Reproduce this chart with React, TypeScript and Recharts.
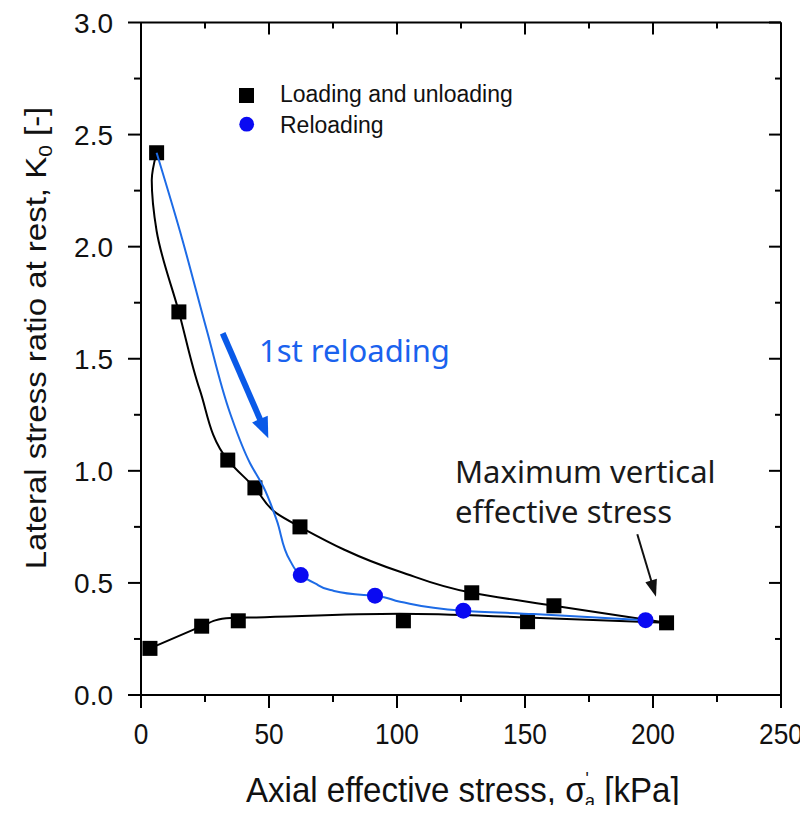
import React from 'react';
import { ScatterChart, Scatter, XAxis, YAxis, Legend } from 'recharts';

// ---- tick values ----
const xTicks = [0, 25, 50, 75, 100, 125, 150, 175, 200, 225, 250];
const yTicks = [0, 0.25, 0.5, 0.75, 1, 1.25, 1.5, 1.75, 2, 2.25, 2.5, 2.75, 3];

// ---- series names ----
const seriesNames = ['Loading and unloading', 'Reloading'];

// ---- measured points (axial effective stress [kPa], K0 [-]) ----
const loadingStress = [3.5, 23.7, 38, 102.5, 151, 205.3];
const loadingK0 = [0.208, 0.307, 0.331, 0.331, 0.327, 0.322];
const unloadingStress = [161.3, 129.2, 62.1, 44.5, 33.9, 14.8, 6.1];
const unloadingK0 = [0.398, 0.456, 0.75, 0.924, 1.048, 1.709, 2.419];
const reloadingStress = [62.4, 91.4, 125.9, 197.1];
const reloadingK0 = [0.535, 0.443, 0.376, 0.334];

// ---- smoothed trend curves ----
const loadingCurveStress = [3.5, 23.7, 29, 35, 45, 101, 150.7, 205.3];
const loadingCurveK0 = [0.208, 0.307, 0.333, 0.343, 0.346, 0.362, 0.346, 0.322];
const unloadingCurveStress = [205.3, 161.3, 129.2, 101.2, 62.1, 53, 44.5, 33.9, 23, 14.8, 6.1, 4.2, 6.1];
const unloadingCurveK0 = [0.322, 0.398, 0.456, 0.55, 0.75, 0.81, 0.924, 1.048, 1.36, 1.709, 2.07, 2.296, 2.419];
const reloadingCurveStress = [6.1, 15.2, 25.7, 34.8, 42.6, 47.8, 53, 58.2, 62.4, 68, 74, 87, 91.4, 101.2, 125.9, 153.3, 197.1];
const reloadingCurveK0 = [2.419, 2.07, 1.627, 1.257, 1.034, 0.929, 0.78, 0.6, 0.535, 0.498, 0.468, 0.446, 0.443, 0.416, 0.376, 0.361, 0.334];

const toPts = (xs: number[], ks: number[]) => xs.map((x, i) => ({ x, k: ks[i] }));

const squares = [...toPts(loadingStress, loadingK0), ...toPts(unloadingStress, unloadingK0)];
const circles = toPts(reloadingStress, reloadingK0);
const loadingCurve = toPts(loadingCurveStress, loadingCurveK0);
const unloadingCurve = toPts(unloadingCurveStress, unloadingCurveK0);
const reloadingCurve = toPts(reloadingCurveStress, reloadingCurveK0);

const ARIAL = '"Liberation Sans", Arial, sans-serif';
const NOTO = '"Noto Sans", "Open Sans", sans-serif';
const BLUE_LINE = '#1d6be6';
const BLUE_DOT = '#0a0af2';
const AX = '#000';

const isMajor = (v: number, step: number) => Math.abs(v / step - Math.round(v / step)) < 1e-9;

const BottomTick = (p: any) => {
  const { x, y, payload } = p;
  const v = payload.value;
  const major = isMajor(v, 50);
  return (
    <g>
      <line x1={x} x2={x} y1={y} y2={y + (major ? 13 : 7)} stroke={AX} strokeWidth={2} />
      {major && (
        <text
          transform={`translate(${x},${y + 49}) scale(0.89,1)`}
          textAnchor="middle"
          fontSize={29.5}
          fontFamily={ARIAL}
          fill="#111"
        >
          {v}
        </text>
      )}
    </g>
  );
};

const TopTick = (p: any) => {
  const { x, y, payload } = p;
  const major = isMajor(payload.value, 50);
  return <line x1={x} x2={x} y1={y} y2={y + (major ? 12 : 6)} stroke={AX} strokeWidth={2} />;
};

const LeftTick = (p: any) => {
  const { x, y, payload } = p;
  const v = payload.value;
  const major = isMajor(v, 0.5);
  return (
    <g>
      <line x1={x} x2={x - (major ? 13 : 7)} y1={y} y2={y} stroke={AX} strokeWidth={2} />
      {major && (
        <text x={x - 28} y={y} dy="0.36em" textAnchor="end" fontSize={28} fontFamily={ARIAL} fill="#111">
          {v.toFixed(1)}
        </text>
      )}
    </g>
  );
};

const RightTick = (p: any) => {
  const { x, y, payload } = p;
  const major = isMajor(payload.value, 0.5);
  return <line x1={x} x2={x - (major ? 12 : 6)} y1={y} y2={y} stroke={AX} strokeWidth={2} />;
};

const SquareMark = (p: any) => <rect x={p.cx - 7.5} y={p.cy - 7.5} width={15} height={15} fill="#000" />;
const CircleMark = (p: any) => <circle cx={p.cx} cy={p.cy} r={8} fill={BLUE_DOT} />;
const NoMark = () => <g />;

const LegendContent = () => (
  <svg width={300} height={64} style={{ display: 'block', overflow: 'visible' }}>
    <rect x={9} y={10} width={15} height={15} fill="#000" />
    <text x={50} y={24.3} fontSize={23} fontFamily={ARIAL} fill="#111">
      {seriesNames[0]}
    </text>
    <circle cx={16.7} cy={46.2} r={7.4} fill={BLUE_DOT} />
    <text x={50} y={55} fontSize={23} fontFamily={ARIAL} fill="#111">
      {seriesNames[1]}
    </text>
  </svg>
);

const Arrow = ({ x1, y1, x2, y2, head, headW, w, color }: any) => {
  const dx = x2 - x1;
  const dy = y2 - y1;
  const L = Math.hypot(dx, dy);
  const ux = dx / L;
  const uy = dy / L;
  const bx = x2 - ux * head;
  const by = y2 - uy * head;
  const px = -uy;
  const py = ux;
  const pts = `${x2},${y2} ${bx + (px * headW) / 2},${by + (py * headW) / 2} ${bx - (px * headW) / 2},${by - (py * headW) / 2}`;
  return (
    <g>
      <line x1={x1} y1={y1} x2={bx + ux * 2} y2={by + uy * 2} stroke={color} strokeWidth={w} />
      <polygon points={pts} fill={color} />
    </g>
  );
};

export default function App() {
  return (
    <div style={{ margin: -8, position: 'relative', width: 808, height: 813, background: '#fff' }}>
      <ScatterChart width={808} height={813} margin={{ top: 21.5, right: 26, bottom: 117, left: 140 }}>
        <XAxis
          xAxisId="b"
          type="number"
          dataKey="x"
          domain={[0, 250]}
          ticks={xTicks}
          interval={0}
          orientation="bottom"
          height={1}
          tickSize={0}
          tickMargin={0}
          tickLine={false}
          tick={<BottomTick />}
          axisLine={{ stroke: AX, strokeWidth: 2 }}
          allowDataOverflow
        />
        <XAxis
          xAxisId="t"
          type="number"
          dataKey="x"
          domain={[0, 250]}
          ticks={xTicks}
          interval={0}
          orientation="top"
          height={1}
          tickSize={0}
          tickMargin={0}
          tickLine={false}
          tick={<TopTick />}
          axisLine={{ stroke: AX, strokeWidth: 2 }}
          allowDataOverflow
        />
        <YAxis
          yAxisId="l"
          type="number"
          dataKey="k"
          domain={[0, 3]}
          ticks={yTicks}
          interval={0}
          orientation="left"
          width={1}
          tickSize={0}
          tickMargin={0}
          tickLine={false}
          tick={<LeftTick />}
          axisLine={{ stroke: AX, strokeWidth: 2 }}
          allowDataOverflow
        />
        <YAxis
          yAxisId="r"
          type="number"
          dataKey="k"
          domain={[0, 3]}
          ticks={yTicks}
          interval={0}
          orientation="right"
          width={1}
          tickSize={0}
          tickMargin={0}
          tickLine={false}
          tick={<RightTick />}
          axisLine={{ stroke: AX, strokeWidth: 2 }}
          allowDataOverflow
        />
        <Scatter
          xAxisId="b"
          yAxisId="l"
          data={loadingCurve}
          fill="#000"
          line={{ stroke: '#000', strokeWidth: 2 }}
          lineJointType="monotoneX"
          shape={NoMark}
          legendType="none"
          isAnimationActive={false}
        />
        <Scatter
          xAxisId="b"
          yAxisId="l"
          data={unloadingCurve}
          fill="#000"
          line={{ stroke: '#000', strokeWidth: 2 }}
          lineJointType="monotoneY"
          shape={NoMark}
          legendType="none"
          isAnimationActive={false}
        />
        <Scatter
          xAxisId="b"
          yAxisId="l"
          name={seriesNames[0]}
          data={squares}
          fill="#000"
          shape={SquareMark}
          legendType="square"
          isAnimationActive={false}
        />
        <Scatter
          xAxisId="b"
          yAxisId="l"
          data={reloadingCurve}
          fill={BLUE_LINE}
          line={{ stroke: BLUE_LINE, strokeWidth: 2 }}
          lineJointType="monotoneY"
          shape={NoMark}
          legendType="none"
          isAnimationActive={false}
        />
        <Scatter
          xAxisId="b"
          yAxisId="l"
          name={seriesNames[1]}
          data={circles}
          fill={BLUE_DOT}
          shape={CircleMark}
          legendType="circle"
          isAnimationActive={false}
        />
        <Legend
          layout="vertical"
          verticalAlign="middle"
          align="center"
          content={<LegendContent />}
          wrapperStyle={{ left: 230, top: 78, width: 300, height: 64 }}
        />
      </ScatterChart>
      <svg
        width={808}
        height={813}
        style={{ position: 'absolute', left: 0, top: 0, pointerEvents: 'none', overflow: 'visible' }}
      >
        <text transform="translate(246,802) scale(0.945,1)" fontSize={35} fontFamily={ARIAL} fill="#111">
          Axial effective stress, σ
          <tspan dy={-17} fontSize={18}>'</tspan>
          <tspan dx={-4} dy={22} fontSize={19}>a</tspan>
          <tspan dy={-5} fontSize={35}> [kPa]</tspan>
        </text>
        <text
          transform="translate(46,338) scale(0.9,1) rotate(-90)"
          textAnchor="middle"
          fontSize={33}
          fontFamily={ARIAL}
          fill="#111"
        >
          Lateral stress ratio at rest, K
          <tspan dy={7} fontSize={21}>0</tspan>
          <tspan dy={-7} fontSize={33}> [-]</tspan>
        </text>
        <text x={259} y={361.7} fontSize={31} fontFamily={NOTO} fill="#1a62ee">
          1st reloading
        </text>
        <Arrow x1={222.7} y1={333.3} x2={268.3} y2={438.3} head={21} headW={17} w={6} color="#0a5ae8" />
        <text x={455} y={482.7} fontSize={31} fontFamily={NOTO} fill="#1a1a1a">
          Maximum vertical
        </text>
        <text x={455} y={522.7} fontSize={31} fontFamily={NOTO} fill="#1a1a1a">
          effective stress
        </text>
        <Arrow x1={637.3} y1={534.3} x2={656} y2={596.7} head={17} headW={12} w={2} color="#111" />
      </svg>
    </div>
  );
}
